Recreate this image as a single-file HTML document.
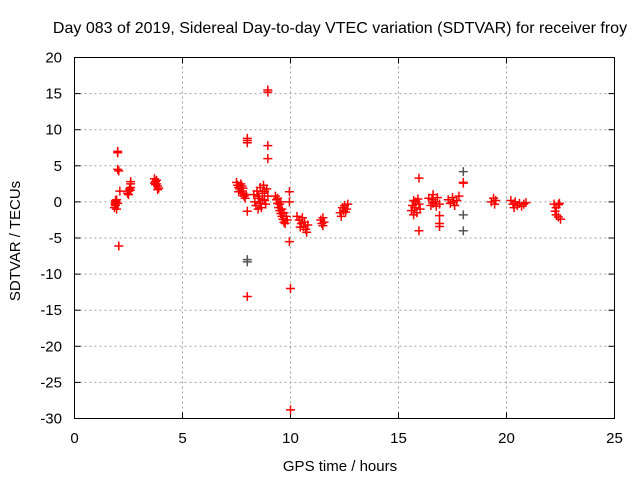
<!DOCTYPE html>
<html><head><meta charset="utf-8"><style>
body{margin:0;background:#fff}
svg text{font-family:"Liberation Sans",sans-serif;font-size:15px;fill:#000}
</style></head><body>
<svg id="c" width="640" height="480">
<text x="340" y="33" text-anchor="middle" style="font-size:16px">Day 083 of 2019, Sidereal Day-to-day VTEC variation (SDTVAR) for receiver froy</text>
<text x="340" y="471" text-anchor="middle">GPS time / hours</text>
<text transform="translate(20,241) rotate(-90)" text-anchor="middle">SDTVAR / TECUs</text>
<g id="grid"></g><g id="ticks"></g><g id="pts"></g>
<rect x="74.5" y="57.5" width="540" height="361" fill="none" stroke="#000"/>
</svg>
<script>
const xTicks=[0,5,10,15,20,25];
const yTicks=[20,15,10,5,0,-5,-10,-15,-20,-25,-30];
const redPoints=[
[1.85,-0.8],[1.9,-0.5],[1.92,0],[1.95,0.3],[1.9,0.2],[1.88,-0.3],[2.0,-0.2],[1.95,-1.0],[1.9,-0.1],
[2.0,7],[2.0,6.8],[2.0,4.5],[2.05,4.3],[2.1,1.5],[2.05,-6.1],
[2.45,1.2],[2.5,1.5],[2.55,1.8],[2.6,2.0],[2.5,1.0],[2.58,1.6],[2.6,2.8],[2.6,2.5],
[3.7,3.2],[3.75,2.8],[3.8,2.5],[3.85,2.2],[3.9,1.9],[3.75,2.4],[3.8,3.0],[3.85,1.7],[3.7,2.6],
[7.5,2.7],[7.55,2.3],[7.6,2.0],[7.65,1.8],[7.7,1.5],[7.75,2.2],[7.8,1.2],[7.85,0.8],[7.9,0.5],[7.95,1.0],[7.6,1.4],[7.7,2.5],[7.8,1.9],
[8.0,8.8],[8.0,8.5],[8.0,8.2],[8.0,-1.3],[8.0,-13.1],
[8.3,1.0],[8.35,0],[8.4,-0.5],[8.45,1.5],[8.5,-1.0],[8.55,0.5],[8.6,2.0],[8.65,-0.8],[8.7,1.2],[8.75,2.3],[8.8,0.2],[8.85,-0.3],[8.9,1.8],[8.95,0.8],[8.5,0.8],[8.6,-0.2],[8.7,0.3],[8.8,1.5],
[8.95,7.8],[8.95,6.0],[8.95,15.5],[8.95,15.2],
[9.3,0.8],[9.35,0.3],[9.4,-0.2],[9.45,-0.8],[9.5,-1.2],[9.55,-1.6],[9.6,-2.0],[9.65,-2.4],[9.7,-2.8],[9.4,0.5],[9.5,-0.3],[9.6,-1.0],[9.7,-1.5],[9.8,-2.0],[9.85,-2.5],[9.55,0],[9.75,-3.0],
[9.95,1.4],[9.95,0],[9.95,-5.5],[10.0,-12.0],[10.0,-28.8],
[10.3,-2.0],[10.4,-2.5],[10.5,-3.0],[10.6,-3.4],[10.7,-3.8],[10.45,-3.5],[10.55,-2.2],[10.65,-2.8],[10.75,-4.2],[10.8,-3.2],
[11.4,-2.5],[11.45,-3.0],[11.5,-2.2],[11.55,-2.8],[11.5,-3.3],
[12.3,-1.5],[12.4,-0.8],[12.5,-0.5],[12.6,-1.0],[12.35,-2.0],[12.45,-1.2],[12.65,-0.3],[12.55,-1.4],
[15.6,-1.2],[15.65,-0.5],[15.7,0.2],[15.75,-0.8],[15.8,0],[15.85,-1.5],[15.9,0.4],[15.95,-0.3],[16.0,-1.0],[15.7,-1.8],
[15.95,3.3],[15.95,-4.0],
[16.4,0.5],[16.5,-0.5],[16.6,1.0],[16.7,0],[16.8,0.6],[16.9,-0.3],[16.55,0.3],[16.75,-0.6],[16.6,-0.2],
[16.9,-1.9],[16.9,-3.0],[16.9,-3.4],
[17.3,0.3],[17.4,-0.2],[17.5,0.6],[17.6,-0.5],[17.7,0.2],[17.8,0.8],[17.55,0],
[18.0,2.7],[18.0,2.6],
[19.3,0],[19.4,0.5],[19.45,-0.3],[19.5,0.2],
[20.2,0.2],[20.3,-0.3],[20.4,0],[20.5,-0.5],[20.6,-0.2],[20.7,-0.6],[20.8,-0.3],[20.9,-0.1],[20.35,-0.8],
[22.2,-0.3],[22.3,-0.8],[22.4,-0.4],[22.25,-1.3],[22.3,-1.8],[22.4,-2.1],[22.5,-2.4],[22.45,-0.2]
];
const grayPoints=[[8.0,-8.0],[8.0,-8.3],[18.0,4.2],[18.0,-1.8],[18.0,-4.0]];
const NS='http://www.w3.org/2000/svg';
const X0=74.5,X1=614.5,Y0=418.5,Y1=57.5;
const sx=v=>X0+(v-0)/(25-0)*(X1-X0);
const sy=v=>Y0-(v+30)/(50)*(Y0-Y1);
function mk(tag,attrs,parent){const e=document.createElementNS(NS,tag);for(const k in attrs)e.setAttribute(k,attrs[k]);parent.appendChild(e);return e;}
const grid=document.getElementById('grid'),ticks=document.getElementById('ticks'),pts=document.getElementById('pts');
xTicks.forEach(t=>{const x=sx(t);
 if(t>0&&t<25){const g=mk('line',{x1:x,x2:x,y1:Y0,y2:Y1,stroke:'#a0a0a0','stroke-dasharray':'2,3'},grid);
 
 }
 mk('line',{x1:x,x2:x,y1:Y0,y2:Y0-6,stroke:'#000'},ticks);
 mk('line',{x1:x,x2:x,y1:Y1,y2:Y1+6,stroke:'#000'},ticks);
 const l=mk('text',{x:x,y:443,'text-anchor':'middle'},ticks);l.textContent=t;
 
 
});
yTicks.forEach(t=>{const y=sy(t);
 if(t>-30&&t<20){const g=mk('line',{x1:X0,x2:X1,y1:y,y2:y,stroke:'#a0a0a0','stroke-dasharray':'2,3'},grid);
 
 }
 mk('line',{x1:X0,x2:X0+6,y1:y,y2:y,stroke:'#000'},ticks);
 mk('line',{x1:X1,x2:X1-6,y1:y,y2:y,stroke:'#000'},ticks);
 const l=mk('text',{x:62,y:y+5,'text-anchor':'end'},ticks);l.textContent=t;
 
 
});
function plus(p,col){const x=sx(p[0]),y=sy(p[1]);
 const e=mk('path',{d:`M${x-4.5},${y}H${x+4.5}M${x},${y-4.5}V${y+4.5}`,stroke:col,'stroke-width':1.5,fill:'none'},pts);
 
 }
redPoints.forEach(p=>plus(p,'#ff0000'));
grayPoints.forEach(p=>plus(p,'#555'));
</script>
</body></html>
